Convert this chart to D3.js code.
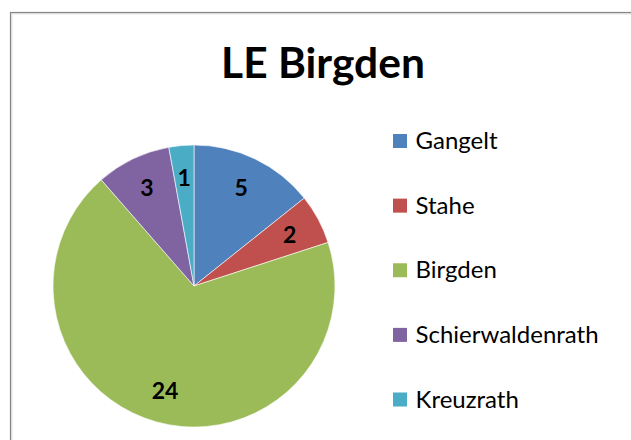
<!DOCTYPE html>
<html>
<head>
<meta charset="utf-8">
<script src="https://cdn.jsdelivr.net/npm/d3@7"></script>
<style>
  body { margin: 0; background: #fff; }
  svg { display: block; }
  text { font-family: Lato, "Open Sans", sans-serif; }
</style>
</head>
<body>
<div id="chart"></div>
<script>
var categories = ['Gangelt', 'Stahe', 'Birgden', 'Schierwaldenrath', 'Kreuzrath'];
var values = [5, 2, 24, 3, 1];
var colors = ['#4F81BD', '#C0504D', '#9BBB59', '#8064A2', '#4BACC6'];
var title = 'LE Birgden';

var width = 631, height = 440;
var cx = 194, cy = 286, radius = 141;

var svg = d3.select('#chart').append('svg')
    .attr('width', width)
    .attr('height', height);

// chart frame (runs off right/bottom edge like the screenshot)
svg.append('rect')
    .attr('x', 10.5).attr('y', 12.5)
    .attr('width', 700).attr('height', 500)
    .attr('fill', 'none')
    .attr('stroke', '#868686')
    .attr('stroke-width', 1.2);
svg.append('rect')
    .attr('x', 11.8).attr('y', 13.8)
    .attr('width', 700).attr('height', 500)
    .attr('fill', 'none')
    .attr('stroke', '#d4d4d4')
    .attr('stroke-width', 1);

svg.append('text')
    .attr('x', 323).attr('y', 78)
    .attr('text-anchor', 'middle')
    .style('font-weight', 'bold')
    .style('font-size', '42.5px')
    .style('fill', '#000')
    .text(title);

var pie = d3.pie().sort(null).value(function(d){ return d; });
var arc = d3.arc().innerRadius(0).outerRadius(radius);
var labelArc = d3.arc().innerRadius(radius * 0.77).outerRadius(radius * 0.77);

var g = svg.append('g')
    .attr('transform', 'translate(' + cx + ',' + cy + ')');

var arcs = pie(values);

g.selectAll('path')
    .data(arcs)
    .enter()
    .append('path')
    .attr('d', arc)
    .attr('fill', function(d, i){ return colors[i]; })
    .attr('stroke', '#fff')
    .attr('stroke-width', 0.6);

g.selectAll('.lbl')
    .data(arcs)
    .enter()
    .append('text')
    .attr('class', 'lbl')
    .attr('transform', function(d){ return 'translate(' + labelArc.centroid(d) + ')'; })
    .attr('text-anchor', 'middle')
    .attr('dy', '0.36em')
    .style('font-weight', 'bold')
    .style('font-size', '23px')
    .style('fill', '#000')
    .text(function(d){ return d.data; });

// legend
var legendY = d3.scalePoint()
    .domain(categories)
    .range([141, 399.5]);

var legend = svg.selectAll('.legend')
    .data(categories)
    .enter()
    .append('g')
    .attr('class', 'legend')
    .attr('transform', function(d){ return 'translate(393,' + legendY(d) + ')'; });

legend.append('rect')
    .attr('x', 0).attr('y', -7)
    .attr('width', 14).attr('height', 14)
    .attr('fill', function(d, i){ return colors[i]; });

legend.append('text')
    .attr('x', 22.5).attr('y', 8)
    .style('font-size', '24px')
    .style('fill', '#000')
    .text(function(d){ return d; });
</script>
</body>
</html>
